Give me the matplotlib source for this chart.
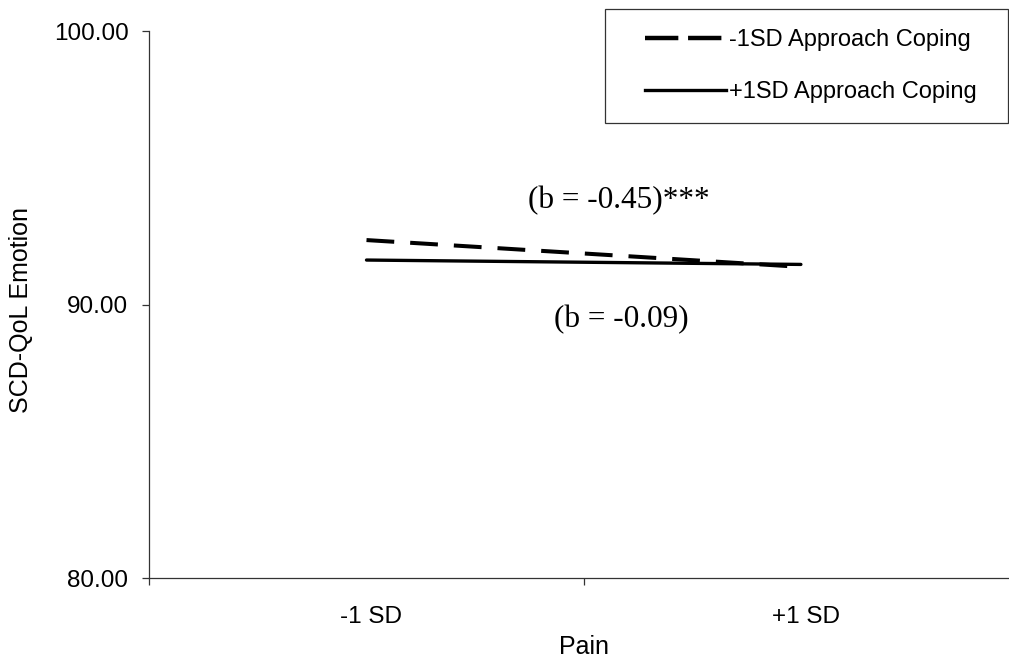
import matplotlib
matplotlib.use("Agg")
import matplotlib.pyplot as plt
from matplotlib.lines import Line2D
from matplotlib.patches import Rectangle
import matplotlib.transforms as mtransforms

plt.rcParams['lines.scale_dashes'] = False

categories = ["-1 SD", "+1 SD"]
low_coping = [92.36, 91.38]    # -1SD Approach Coping (dashed)
high_coping = [91.63, 91.47]   # +1SD Approach Coping (solid)
y_ticks = [80, 90, 100]
y_tick_labels = ["80.00", "90.00", "100.00"]
series_labels = ["-1SD Approach Coping", "+1SD Approach Coping"]
annot_low = "(b = -0.45)***"
annot_high = "(b = -0.09)"

W, H = 1009, 658
fig = plt.figure(figsize=(W / 100, H / 100), dpi=100)
ax = fig.add_axes([149.3 / W, (H - 578.3) / H, 868.8 / W, (578.3 - 31) / H])

sans = "Liberation Sans"
serif = "Liberation Serif"
spine_c = "#333333"

xpos = [0.5, 1.5]
ax.plot(xpos, low_coping, color="black", lw=2.9, dashes=(20, 11.5),
        solid_capstyle="butt", dash_capstyle="butt")
ax.plot(xpos, high_coping, color="black", lw=2.4, solid_capstyle="round")

ax.set_xlim(0, 2)
ax.set_ylim(80, 100)

for s in ["top", "right"]:
    ax.spines[s].set_visible(False)
for s in ["left", "bottom"]:
    ax.spines[s].set_color(spine_c)
    ax.spines[s].set_linewidth(0.9)

ax.set_yticks(y_ticks)
ax.set_yticklabels(y_tick_labels, fontsize=17.5, family=sans)
ax.tick_params(axis="y", direction="out", length=5, width=0.9, color=spine_c, pad=10)

ax.set_xticks([0, 1, 2])
ax.set_xticklabels([])
ax.set_xticks(xpos, minor=True)
ax.set_xticklabels(categories, minor=True, fontsize=17.5, family=sans)
ax.tick_params(axis="x", which="major", direction="out", length=5, width=0.9, color=spine_c)
ax.tick_params(axis="x", which="minor", length=0, pad=20)
offset = mtransforms.ScaledTranslation(5 / 100, 0, fig.dpi_scale_trans)
for lab in ax.xaxis.get_minorticklabels():
    lab.set_transform(lab.get_transform() + offset)

ax.set_xlabel("Pain", fontsize=18, family=sans, labelpad=5)
ax.set_ylabel("SCD-QoL Emotion", fontsize=18, family=sans)
ax.yaxis.set_label_coords((33 - 149.3) / 868.8, (578.3 - 310) / (578.3 - 31))

ax.text(1.081, 93.8, annot_low, fontsize=22.5, family=serif, ha="center", va="center")
ax.text(1.086, 89.45, annot_high, fontsize=22.5, family=serif, ha="center", va="center")

# legend
handles = [
    Line2D([], [], color="black", lw=3.2, dashes=(24, 7), dash_capstyle="butt"),
    Line2D([], [], color="black", lw=2.4),
]
leg = fig.legend(handles, series_labels, loc="upper left",
                 bbox_to_anchor=(645 / W, 1 - 29 / H), frameon=False,
                 prop={"family": sans, "size": 17}, handlelength=3.45,
                 handletextpad=0.12, labelspacing=1.27, borderpad=0, borderaxespad=0)
fig.patches.append(Rectangle((605 / W, 1 - 123 / H), 403 / W, 114 / H,
                             transform=fig.transFigure, fill=False,
                             edgecolor=spine_c, lw=0.9))

fig.savefig("out.png", dpi=100)
